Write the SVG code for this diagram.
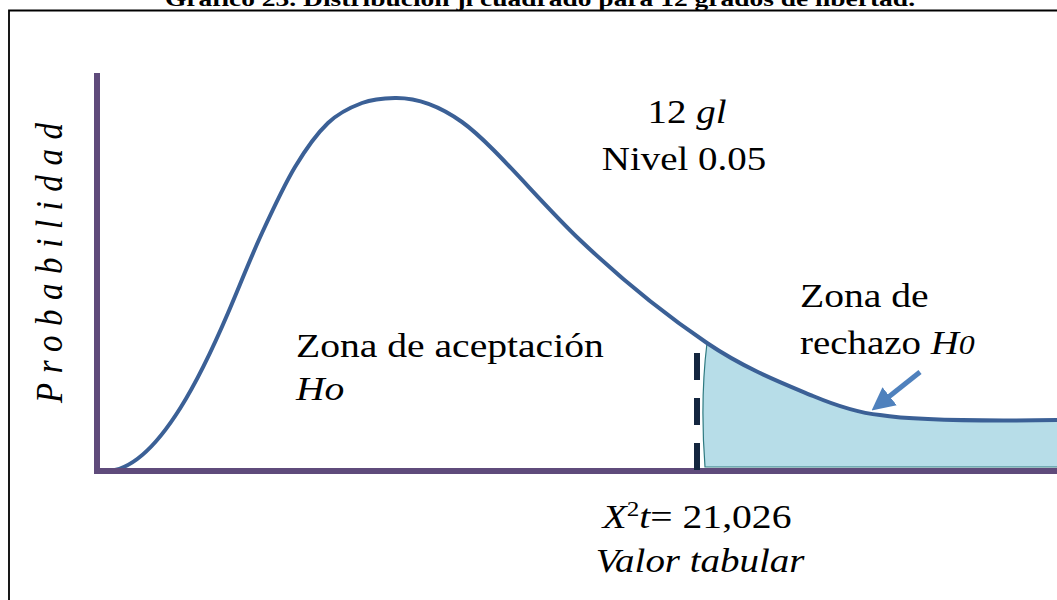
<svg xmlns="http://www.w3.org/2000/svg" width="1057" height="600" viewBox="0 0 1057 600">
<style>
.t{font-family:"Liberation Serif","Times New Roman",serif;font-size:33px;fill:#000}
.i{font-style:italic}
.title{font-family:"Liberation Serif","Times New Roman",serif;font-size:20px;font-weight:bold;fill:#000}
.axis{stroke:#5F4B7B;stroke-width:6;fill:none}
.curve{stroke:#3B6096;stroke-width:4;fill:none;stroke-linejoin:round}
</style>
<defs>
<marker id="ah" viewBox="0 0 10 10" refX="2" refY="5" markerUnits="userSpaceOnUse" markerWidth="23" markerHeight="25" orient="auto">
<path d="M0,0 L10,5 L0,10 z" fill="#4F81BD"/>
</marker>
</defs>
<rect width="1057" height="600" fill="#fff"/>
<g id="frame">
<text class="title" x="540" y="6" text-anchor="middle" textLength="750" lengthAdjust="spacingAndGlyphs">Gráfico 23. Distribución ji cuadrado para 12 grados de libertad.</text>
<path d="M9,600 V10.5 H1057" stroke="#000" stroke-width="1.8" fill="none"/>
</g>
<g id="rejection-area">
<path d="M705,467 Q700,400 707,343 C745.8,369.3 784.2,384 813,396 C841.8,408 860,413 880,415 C905,419 960,421.5 1060,420 L1060,467 Z" fill="#B7DDE8" stroke="#2E7A80" stroke-width="1.2"/>
</g>
<g id="curve">
<path class="curve" d="M106,471 C160,471 210,355 228,313 C239.2,286.8 250.8,257.3 262,233 C273.2,208.7 284,185.3 295,167 C306,148.7 316.8,133.7 328,123 C339.2,112.3 350.8,107.2 362,103 C373.2,98.8 384,98.2 395,98 C406,97.8 431.2,100 462,122 C492.8,144 539.2,201.2 580,240 C620.8,278.8 668.2,316.7 707,343 C745.8,369.3 784.2,384 813,396 C841.8,408 860,413 880,415 C905,419 960,421.5 1060,420"/>
</g>
<g id="axes">
<path class="axis" d="M97,73 V471 H1057"/>
</g>
<g id="critical-line">
<line x1="697" y1="353" x2="697" y2="471" stroke="#14263F" stroke-width="6" stroke-dasharray="27 18"/>
</g>
<g id="connectors">
<line x1="920" y1="372" x2="886" y2="399" stroke="#4F81BD" stroke-width="5" marker-end="url(#ah)"/>
</g>
<g id="y-label">
<text class="t i" transform="translate(62,403) scale(1.18,1) rotate(-90)" textLength="280" lengthAdjust="spacing">Probabilidad</text>
</g>
<g id="params">
<text class="t" transform="translate(687,123) scale(1.18,1)" text-anchor="middle">12 <tspan class="i">gl</tspan></text>
<text class="t" transform="translate(684,170) scale(1.18,1)" text-anchor="middle">Nivel 0.05</text>
</g>
<g id="acceptance-label">
<text class="t" transform="translate(296,357) scale(1.2,1)">Zona de aceptación</text>
<text class="t i" transform="translate(296,400) scale(1.2,1)">Ho</text>
</g>
<g id="rejection-label">
<text class="t" transform="translate(800,307) scale(1.2,1)">Zona de</text>
<text class="t" transform="translate(800,354) scale(1.18,1)">rechazo <tspan class="i">H</tspan><tspan class="i" font-size="27">0</tspan></text>
</g>
<g id="critical-label">
<text class="t" transform="translate(697,528) scale(1.2,1)" text-anchor="middle"><tspan class="i">X</tspan><tspan font-size="21" dy="-12">2</tspan><tspan class="i" dy="12">t</tspan>= 21,026</text>
<text class="t i" transform="translate(700,572) scale(1.18,1)" text-anchor="middle">Valor tabular</text>
</g>
</svg>
